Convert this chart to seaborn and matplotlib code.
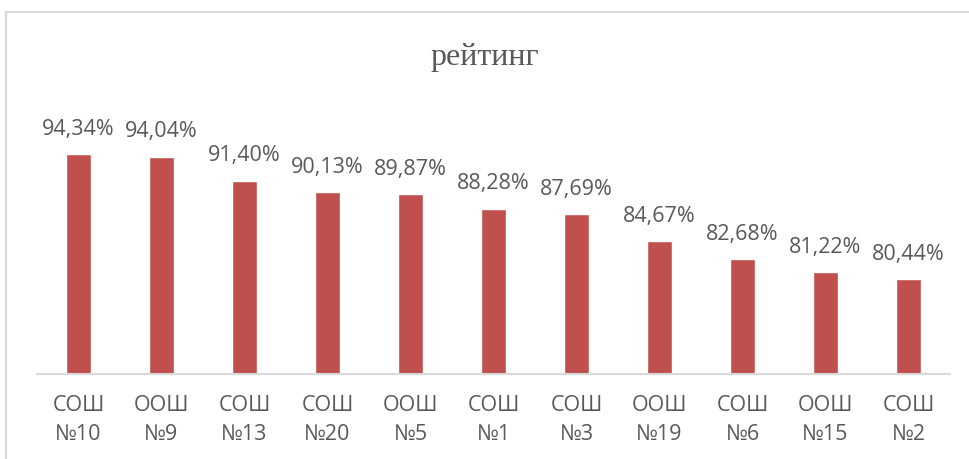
import pandas as pd
import matplotlib.pyplot as plt
import seaborn as sns
from matplotlib.patches import Rectangle

# data
schools = ["СОШ\n№10", "ООШ\n№9", "СОШ\n№13", "СОШ\n№20", "ООШ\n№5", "СОШ\n№1",
           "СОШ\n№3", "ООШ\n№19", "СОШ\n№6", "ООШ\n№15", "СОШ\n№2"]
rating = [94.34, 94.04, 91.40, 90.13, 89.87, 88.28, 87.69, 84.67, 82.68, 81.22, 80.44]

df = pd.DataFrame({"school": schools, "rating": rating})

sns.set_style("white")
plt.rcParams['font.family'] = ['Open Sans', 'DejaVu Sans']

text_color = "#595959"
bar_color = "#C0504D"

fig = plt.figure(figsize=(9.7, 4.6), dpi=100)
ax = fig.add_axes([37 / 970, 1 - 374.5 / 460, (950 - 37) / 970, (374.5 - 104) / 460])

sns.barplot(data=df, x="school", y="rating", color=bar_color, saturation=1,
            width=0.31, ax=ax)

ax.set_ylim(70, 100)
ax.set_xlim(-0.5, len(schools) - 0.5)

# value labels with comma decimal separator
labels = [f"{v:.2f}%".replace(".", ",") for v in rating]
ax.bar_label(ax.containers[0], labels=labels, padding=11, fontsize=15.5, color=text_color)

# hide the y-axis, keep only the grey baseline
ax.set_yticks([])
ax.set_xlabel("")
ax.set_ylabel("")
for side in ["top", "right", "left"]:
    ax.spines[side].set_visible(False)
ax.spines["bottom"].set_color("#D9D9D9")
ax.spines["bottom"].set_linewidth(1.5)
ax.tick_params(axis="x", length=0, pad=15, labelsize=15.5, labelcolor=text_color)
for t in ax.get_xticklabels():
    t.set_linespacing(1.5)

fig.text(0.5, 1 - 57 / 460, "рейтинг", ha="center", va="center",
         fontsize=23, color=text_color, family="Liberation Serif")

# light grey chart border (cut off at the right and bottom)
fig.patches.append(Rectangle((6 / 970, -0.1), 1.1, 1 - 13 / 460 + 0.1,
                             transform=fig.transFigure, fill=False,
                             edgecolor="#D9D9D9", linewidth=1.5))

fig.savefig("out.png", dpi=100)
